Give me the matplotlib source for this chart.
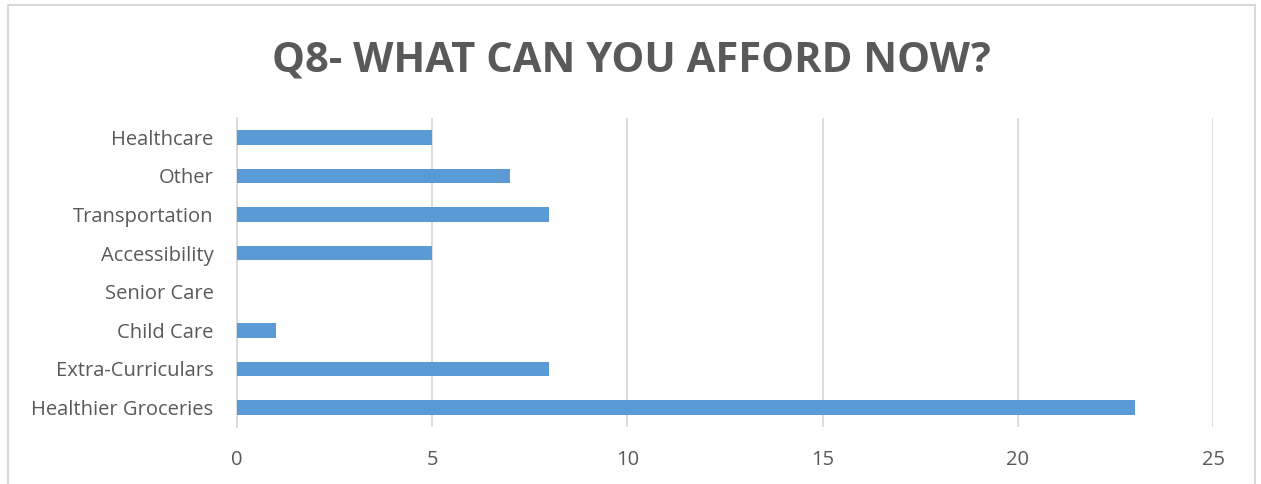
import matplotlib
matplotlib.use("Agg")
import matplotlib.pyplot as plt

categories = ["Healthier Groceries", "Extra-Curriculars", "Child Care", "Senior Care",
              "Accessibility", "Transportation", "Other", "Healthcare"]
counts = [23, 8, 1, 0, 5, 8, 7, 5]
xticks = [0, 5, 10, 15, 20, 25]

txt = "#595959"
grid = "#D9D9D9"
plt.rcParams["font.family"] = ["Open Sans", "DejaVu Sans"]

fig = plt.figure(figsize=(12.61, 4.84), dpi=100)
ax = fig.add_axes([0.188, 0.118, 0.774, 0.638])

ax.barh(range(len(categories)), counts, height=0.37, color="#5B9BD5", zorder=3)
ax.set_yticks(range(len(categories)))
ax.set_yticklabels(categories)
ax.set_ylim(-0.5, len(categories) - 0.5)
ax.set_xlim(0, 25)
ax.set_xticks(xticks)
ax.xaxis.grid(True, color=grid, linewidth=1.3, zorder=0)
for s in ["top", "right", "bottom"]:
    ax.spines[s].set_visible(False)
ax.spines["left"].set_color(grid)
ax.spines["left"].set_linewidth(1.3)
ax.tick_params(axis="both", length=0, colors=txt, labelsize=14.5)
ax.tick_params(axis="y", pad=17)
ax.tick_params(axis="x", pad=17)

fig.text(0.501, 0.875, "Q8- WHAT CAN YOU AFFORD NOW?", ha="center", va="center",
         fontsize=30, fontweight="bold", color=txt)

# chart frame (open at the bottom)
fig.add_artist(plt.Line2D([8/1261, 8/1261, 1255/1261, 1255/1261],
                          [0, 1 - 5/484, 1 - 5/484, 0],
                          transform=fig.transFigure, color=grid, linewidth=1.5))

fig.savefig("out.png", dpi=100)
